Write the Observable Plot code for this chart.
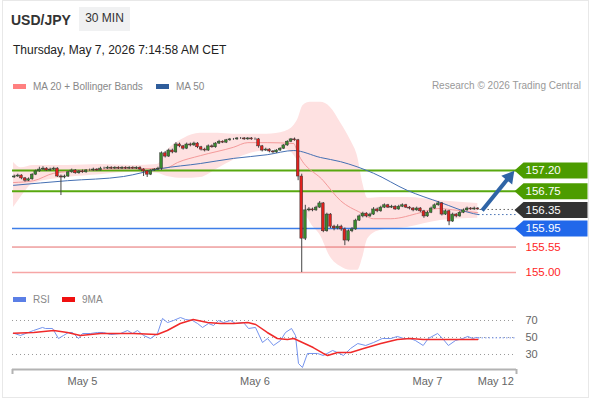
<!DOCTYPE html>
<html><head><meta charset="utf-8">
<script src="https://cdn.jsdelivr.net/npm/d3@7"></script>
<script src="https://cdn.jsdelivr.net/npm/@observablehq/plot@0.6"></script>
<style>
body{margin:0;background:#fff;font-family:"Liberation Sans",Arial,sans-serif;}
#card{position:relative;width:590px;height:400px;overflow:hidden;background:#fff;}
.abs{position:absolute;white-space:nowrap;line-height:normal;}
.sw{position:absolute;width:13px;height:5px;}
</style></head><body>
<div id="card">
  <div class="abs" style="left:2px;top:0;width:585px;height:396px;border:1px solid #e8e8e8;"></div>
  <div class="abs" style="left:11px;top:12px;font-size:14px;font-weight:bold;color:#333">USD/JPY</div>
  <div class="abs" style="left:79px;top:7px;width:51px;height:24px;background:#f0f1f2;"></div>
  <div class="abs" style="left:79px;top:11px;width:51px;text-align:center;font-size:12px;color:#333">30 MIN</div>
  <div class="abs" style="left:13px;top:43px;font-size:12px;color:#222">Thursday, May 7, 2026 7:14:58 AM CET</div>
  <div class="sw" style="left:13px;top:84px;background:#ff8080"></div>
  <div class="abs" style="left:33px;top:81px;font-size:10px;color:#888">MA 20 + Bollinger Bands</div>
  <div class="sw" style="left:156px;top:84px;background:#2f5d9b"></div>
  <div class="abs" style="left:176px;top:81px;font-size:10px;color:#888">MA 50</div>
  <div class="abs" style="right:9px;top:80px;font-size:10px;color:#999">Research © 2026 Trading Central</div>
  <div class="sw" style="left:13px;top:297px;background:#5b7fe6"></div>
  <div class="abs" style="left:33px;top:294px;font-size:10px;color:#888">RSI</div>
  <div class="sw" style="left:62px;top:297px;background:#f01010"></div>
  <div class="abs" style="left:82px;top:294px;font-size:10px;color:#888">9MA</div>
  <div id="main" class="abs" style="left:0;top:95px"></div>
  <div id="rsi" class="abs" style="left:0;top:310px"></div>
</div>
<script>
// ---- data (x in hours since May 5 00:00) ----
const firstCandleHour = -9.5;
const candleStep = 0.5;
const opens = [
157.05,157.07,157.09,157.03,156.98,157.01,157.11,157.18,157.22,157.24,
157.20,157.22,157.24,157.07,157.05,157.07,157.16,157.20,157.14,157.18,
157.16,157.20,157.20,157.22,157.20,157.24,157.24,157.26,157.24,157.26,
157.24,157.26,157.24,157.26,157.24,157.26,157.22,157.18,157.11,157.20,
157.22,157.24,157.57,157.50,157.63,157.59,157.76,157.72,157.67,157.76,
157.74,157.78,157.70,157.65,157.63,157.72,157.70,157.78,157.82,157.80,
157.85,157.87,157.87,157.89,157.89,157.87,157.89,157.87,157.87,157.72,
157.63,157.65,157.61,157.59,157.63,157.67,157.74,157.82,157.87,157.85,
157.07,155.73,156.34,156.36,156.34,156.40,156.49,155.89,156.25,155.99,
155.95,155.99,155.93,155.69,155.89,155.93,156.12,156.21,156.27,156.21,
156.25,156.36,156.32,156.40,156.45,156.40,156.42,156.36,156.42,156.45,
156.40,156.38,156.34,156.38,156.32,156.21,156.29,156.38,156.45,156.49,
156.25,156.32,156.10,156.25,156.21,156.29,156.34,156.38,156.36,156.38];
const highs = [
157.10,157.12,157.11,157.05,157.04,157.13,157.21,157.27,157.28,157.26,
157.25,157.27,157.26,157.10,157.10,157.18,157.23,157.22,157.20,157.21,
157.22,157.23,157.25,157.24,157.27,157.27,157.29,157.28,157.28,157.28,
157.28,157.28,157.28,157.28,157.28,157.28,157.24,157.20,157.22,157.24,
157.27,157.60,157.61,157.66,157.66,157.80,157.79,157.74,157.79,157.79,
157.81,157.80,157.72,157.68,157.75,157.75,157.80,157.85,157.84,157.87,
157.89,157.89,157.91,157.91,157.91,157.91,157.91,157.90,157.89,157.74,
157.68,157.67,157.63,157.65,157.69,157.76,157.84,157.89,157.90,157.87,
157.12,156.45,156.40,156.39,156.43,156.53,156.51,156.28,156.27,156.02,
156.03,156.02,155.96,155.92,155.97,156.15,156.24,156.30,156.29,156.28,
156.40,156.39,156.43,156.48,156.47,156.45,156.44,156.45,156.48,156.47,
156.42,156.40,156.41,156.40,156.34,156.32,156.41,156.48,156.53,156.51,
156.35,156.34,156.28,156.27,156.32,156.37,156.41,156.40,156.41,156.40];
const lows = [
157.03,157.05,157.00,156.95,156.96,156.99,157.09,157.16,157.20,157.18,
157.18,157.20,157.05,156.66,157.02,157.05,157.14,157.12,157.12,157.14,
157.14,157.18,157.18,157.18,157.19,157.22,157.22,157.22,157.22,157.22,
157.22,157.22,157.22,157.22,157.22,157.20,157.07,157.05,157.09,157.18,
157.20,157.20,157.47,157.48,157.56,157.57,157.69,157.64,157.65,157.71,
157.72,157.67,157.62,157.60,157.61,157.68,157.68,157.76,157.78,157.78,
157.83,157.85,157.85,157.87,157.85,157.85,157.85,157.85,157.68,157.60,
157.61,157.58,157.56,157.57,157.61,157.65,157.72,157.80,157.83,156.98,
155.00,155.69,156.31,156.31,156.32,156.38,155.86,155.87,155.95,155.90,
155.92,155.89,155.58,155.66,155.86,155.91,156.10,156.18,156.18,156.19,
156.23,156.29,156.30,156.38,156.38,156.38,156.34,156.34,156.40,156.38,
156.35,156.31,156.32,156.29,156.17,156.19,156.27,156.36,156.43,156.22,
156.23,156.01,156.08,156.18,156.19,156.27,156.32,156.34,156.34,156.34];
const closes = [
157.07,157.09,157.03,156.98,157.01,157.11,157.18,157.22,157.24,157.20,
157.22,157.24,157.07,157.05,157.07,157.16,157.20,157.14,157.18,157.16,
157.20,157.20,157.22,157.20,157.24,157.24,157.26,157.24,157.26,157.24,
157.26,157.24,157.26,157.24,157.26,157.22,157.18,157.11,157.20,157.22,
157.24,157.57,157.50,157.63,157.59,157.76,157.72,157.67,157.76,157.74,
157.78,157.70,157.65,157.63,157.72,157.70,157.78,157.82,157.80,157.85,
157.87,157.87,157.89,157.89,157.87,157.89,157.87,157.87,157.72,157.63,
157.65,157.61,157.59,157.63,157.67,157.74,157.82,157.87,157.85,157.07,
155.73,156.34,156.36,156.34,156.40,156.49,155.89,156.25,155.99,155.95,
155.99,155.93,155.69,155.89,155.93,156.12,156.21,156.27,156.21,156.25,
156.36,156.32,156.40,156.45,156.40,156.42,156.36,156.42,156.45,156.40,
156.38,156.34,156.38,156.32,156.21,156.29,156.38,156.45,156.49,156.25,
156.32,156.10,156.25,156.21,156.29,156.34,156.38,156.36,156.38,156.36];

const ma20Hours  = [-9.6,-6.8,-4.0,0.1,7.1,10.4,11.8,13.2,16.4,21.0,23.0,25.7,29.4,29.9,33.5,35.9,38.7,40.5,42.9,47.0,49.4,52.2,55.0];
const ma20Values = [156.94,156.98,157.14,157.20,157.24,157.24,157.26,157.37,157.52,157.70,157.80,157.80,157.78,157.59,156.98,156.55,156.29,156.16,156.16,156.29,156.38,156.34,156.29];
const ma50Hours  = [-9.6,-2.1,5.7,10.85,16.4,21.0,25.7,29.4,33.1,35.9,40.5,45.2,49.8,54.4,55.1];
const ma50Values = [156.88,156.98,157.07,157.24,157.35,157.46,157.54,157.63,157.48,157.39,157.14,156.77,156.51,156.27,156.25];
const bandHours = [-9.6,-8.6,-6.8,-2.1,2.5,7.1,10.4,11.8,14.1,16.4,18.8,21.0,23.4,25.7,28.2,29.9,30.7,31.7,33.1,34.5,35.9,37.3,38.3,39.0,39.7,41.5,45.2,49.8,55.0];
const bandUpper = [157.37,157.26,157.31,157.31,157.33,157.31,157.33,157.63,157.89,158.00,158.00,157.98,157.98,157.98,158.04,158.28,158.60,158.67,158.67,158.56,158.23,157.85,157.48,156.92,156.60,156.62,156.62,156.55,156.49];
const bandLower = [156.40,156.62,156.92,157.05,157.11,157.16,157.14,157.07,157.03,157.05,157.24,157.42,157.57,157.63,157.65,157.41,156.45,156.08,155.80,155.33,155.13,155.05,155.05,155.33,155.73,155.91,155.97,156.12,156.17];

const levelValues = [157.20, 156.75, 156.35, 155.95, 155.55, 155.00];
const levelKinds  = ["res", "res", "last", "sup", "sup2", "sup3"];
const arrowHours  = [55.6, 59.9];
const arrowPrices = [156.34, 157.16];

const rsiHours = [-9.6,-8.63,-6.82,-5.57,-5.15,-4.17,-3.34,-2.64,-1.95,-1.39,-0.56,0,1.11,2.09,2.92,3.9,5.29,6.26,6.96,7.65,8.49,9.46,10.43,11.13,11.83,12.66,13.63,14.33,15.3,16.0,16.7,17.53,18.23,18.92,19.62,20.59,21.29,22.4,23.1,24.07,25.04,25.74,26.57,27.55,28.24,29.08,29.63,30.05,30.6,31.3,32.7,33.5,34.8,35.8,36.3,37.3,38.3,39.4,40.5,41.7,42.9,43.8,44.7,45.6,46.3,47.4,48.1,49.4,50.1,50.9,51.9,52.9,53.6,54.3,54.7,55.1];
const rsiValues = [55.1,52.4,58.2,61.8,60.6,60.6,48.8,52.4,55.9,55.9,48.8,54.7,54.7,55.9,55.9,53.5,54.7,58.2,54.7,58.2,52.4,48.8,54.7,72.4,67.6,70,73.5,71.2,70,66.5,61.8,66.5,64.1,70,67.6,70,66.5,67.6,60.6,61.8,44.1,48.8,40.6,46.5,55.9,60.6,52.4,19.4,14.7,31.2,31.2,28.8,34.7,31.2,28.8,37.1,42.9,40.6,44.1,48.8,48.8,51.2,48.8,48.8,46.5,40.6,48.8,54.7,48.8,40.6,46.5,48.8,51.2,48.8,50,49.6];
const rsiMaHours  = [-9.6,-6.8,-4.0,-2.1,-0.3,2.5,7.1,10.4,11.8,13.6,15.4,17.4,19.2,21.0,23.0,24.1,25.7,27.1,28.5,29.4,30.6,32.1,33.5,34.1,35.5,37.3,39.1,41.5,43.8,45.6,47.4,49.8,52.2,55.0];
const rsiMaValues = [55.1,55.9,58.2,55.9,52.4,54.7,54.7,53.5,58.2,66.5,71.2,67.6,66.5,66.5,67.6,65.3,55.9,48.8,47.6,48.8,44.1,38.2,31.2,28.8,32.4,32.4,37.1,42.9,47.6,48.8,47.6,47.6,47.6,47.6];
const rsiGrid = [70, 50, 30];
const tickHours  = [0, 24, 48, 57.5];
const tickLabels = ["May 5", "May 6", "May 7", "May 12"];

// ---- layout / styles ----
const W = 590, ML = 12, MR = 74, MAIN_H = 185;
const xDomain = [-9.74, 60.38];
const priceDomain = [154.829, 158.816];
const rsiDomain = [12.35, 81.76];
const FONT = "Liberation Sans, Arial, sans-serif";
const GREEN = "#3a8a2e", RED = "#e3201c", ARROW = "#2f64a6";
const kindStyle = {
  res:  {line: "#58a80f", w: 2,   box: "#4c9c00", text: "#fff"},
  last: {line: null,      w: 0,   box: "#333333", text: "#fff"},
  sup:  {line: "#3d7ee8", w: 1.5, box: "#2168ea", text: "#fff"},
  sup2: {line: "#e56b6b", w: 1,   box: null,      text: "#ff1f1f"},
  sup3: {line: "#f6a6a6", w: 1.5, box: null,      text: "#ff1f1f"}
};

const candles = closes.map((c, i) => ({t: firstCandleHour + candleStep * i, o: opens[i], h: highs[i], l: lows[i], c}));
const ma20 = ma20Hours.map((t, i) => ({t, p: ma20Values[i]}));
const ma50 = ma50Hours.map((t, i) => ({t, p: ma50Values[i]}));
const bands = bandHours.map((t, i) => ({t, up: bandUpper[i], lo: bandLower[i]}));
const levels = levelValues.map((v, i) => ({v, ...kindStyle[levelKinds[i]]}));
const last = candles[candles.length - 1];
const lastMa50 = ma50[ma50.length - 1];
const rsi = rsiHours.map((t, i) => ({t, v: rsiValues[i]}));
const rsiMa = rsiMaHours.map((t, i) => ({t, v: rsiMaValues[i]}));
const lastRsi = rsi[rsi.length - 1];

// arrow geometry in pixels (for head rotation)
const sx = d3.scaleLinear(xDomain, [ML, W - MR]);
const sy = d3.scaleLinear(priceDomain, [MAIN_H, 0]);
const adx = sx(arrowHours[1]) - sx(arrowHours[0]);
const ady = sy(arrowPrices[1]) - sy(arrowPrices[0]);
const alen = Math.hypot(adx, ady);
const headBack = 7;
const shaft = [{x1: arrowHours[0], y1: arrowPrices[0],
  x2: sx.invert(sx(arrowHours[1]) - adx / alen * headBack), y2: sy.invert(sy(arrowPrices[1]) - ady / alen * headBack)}];
const head = [{x: sx.invert(sx(arrowHours[1]) - adx / alen * 5), y: sy.invert(sy(arrowPrices[1]) - ady / alen * 5),
  rot: Math.atan2(adx, -ady) * 180 / Math.PI}];

const tag = {draw(ctx) { ctx.moveTo(-2, 0); ctx.lineTo(7, -8); ctx.lineTo(71, -8); ctx.lineTo(71, 8); ctx.lineTo(7, 8); ctx.closePath(); }};
const tri = {draw(ctx) { ctx.moveTo(0, -7); ctx.lineTo(7, 5); ctx.lineTo(-7, 5); ctx.closePath(); }};

const main = Plot.plot({
  width: W, height: MAIN_H, marginLeft: ML, marginRight: MR, marginTop: 0, marginBottom: 0,
  style: {fontFamily: FONT, background: "transparent", overflow: "visible"},
  x: {domain: xDomain, axis: null},
  y: {domain: priceDomain, axis: null},
  color: {type: "identity"},
  marks: [
    Plot.areaY(bands, {x: "t", y1: "lo", y2: "up", fill: "#fee1e1", curve: "monotone-x"}),
    Plot.ruleY(levels.filter(d => d.line), {y: "v", stroke: "line", strokeWidth: "w"}),
    Plot.line(ma20, {x: "t", y: "p", stroke: "#f49a9a", strokeWidth: 1, curve: "monotone-x"}),
    Plot.line(ma50, {x: "t", y: "p", stroke: "#4570b3", strokeWidth: 1, curve: "monotone-x"}),
    Plot.ruleX(candles, {x: "t", y1: "l", y2: "h", stroke: "#444", strokeWidth: 1}),
    Plot.rect(candles, {x1: d => d.t - 0.19, x2: d => d.t + 0.19, y1: "o", y2: "c",
      fill: d => d.c >= d.o ? GREEN : RED, stroke: "#333", strokeWidth: 0.5}),
    Plot.ruleY([last], {y: "c", x1: d => d.t + 0.3, x2: xDomain[1], stroke: "#666", strokeDasharray: "1.5,2.5"}),
    Plot.ruleY([lastMa50], {y: "p", x1: "t", x2: xDomain[1], stroke: "#4570b3", strokeDasharray: "1.5,2.5"}),
    Plot.link(shaft, {x1: "x1", y1: "y1", x2: "x2", y2: "y2", stroke: ARROW, strokeWidth: 4}),
    Plot.dot(head, {x: "x", y: "y", rotate: "rot", symbol: tri, fill: ARROW, stroke: null, r: 5}),
    Plot.dot(levels.filter(d => d.box), {y: "v", frameAnchor: "right", symbol: tag, fill: "box", stroke: null, r: 5}),
    Plot.text(levels, {y: "v", text: d => d.v.toFixed(2), frameAnchor: "right", textAnchor: "start", dx: 9,
      fill: "text", fontSize: 11.5, fontFamily: FONT})
  ]
});
document.getElementById("main").appendChild(main);

const labelByHour = new Map(tickHours.map((h, i) => [h, tickLabels[i]]));
const rsiPlot = Plot.plot({
  width: W, height: 85, marginLeft: ML, marginRight: MR, marginTop: 0, marginBottom: 26,
  style: {fontFamily: FONT, background: "transparent", overflow: "visible"},
  x: {domain: xDomain},
  y: {domain: rsiDomain},
  marks: [
    Plot.ruleY(rsiGrid, {stroke: "#999", strokeDasharray: "1,3"}),
    Plot.line(rsi, {x: "t", y: "v", stroke: "#7594ee", strokeWidth: 1}),
    Plot.ruleY([lastRsi], {y: "v", x1: "t", x2: xDomain[1], stroke: "#7594ee", strokeDasharray: "1.5,2"}),
    Plot.line(rsiMa, {x: "t", y: "v", stroke: "#f02a2a", strokeWidth: 1.5}),
    Plot.ruleY([rsiDomain[0]], {stroke: "#b3b3b3", strokeWidth: 2}),
    Plot.ruleX(xDomain, {y1: rsiDomain[0], y2: rsiDomain[0], insetBottom: -5, stroke: "#b3b3b3", strokeWidth: 2}),
    Plot.axisY(rsiGrid, {anchor: "right", tickSize: 0, tickPadding: 9, fontSize: 11, fill: "#666", label: null}),
    Plot.axisX(tickHours, {tickSize: 0, tickPadding: 8, tickFormat: d => labelByHour.get(d), fontSize: 11, fill: "#666", label: null})
  ]
});
document.getElementById("rsi").appendChild(rsiPlot);
</script>
</body></html>
